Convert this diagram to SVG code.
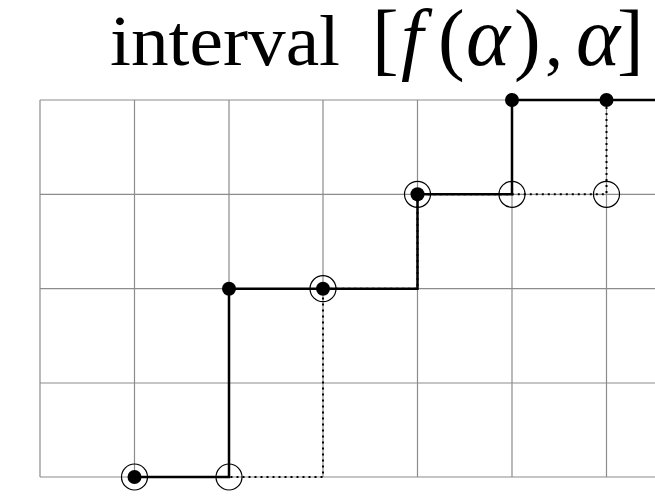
<svg xmlns="http://www.w3.org/2000/svg" width="655" height="504" viewBox="0 0 655 504">
<style>
.grid{stroke:#8c8c8c;stroke-width:1.2;fill:none}
.solid{stroke:#000;stroke-width:2.5;fill:none}
.dot{stroke:#000;stroke-width:2;fill:none;stroke-dasharray:2 4}
.fd{fill:#000}
.oc{fill:none;stroke:#000;stroke-width:1.2}
.title{font-family:"Liberation Serif","Times New Roman",serif;font-size:72px;fill:#000}
.it{font-style:italic}
</style>
<rect width="655" height="504" fill="#fff"/>
<text class="title" y="65"><tspan x="110" textLength="230" lengthAdjust="spacingAndGlyphs">interval</tspan><tspan x="372" font-size="80">[</tspan><tspan x="401" class="it" font-size="80">f</tspan><tspan x="438" font-size="80">(</tspan><tspan x="466" class="it" font-size="84">α</tspan><tspan x="514" font-size="80">)</tspan><tspan x="545">,</tspan><tspan x="576" class="it" font-size="84">α</tspan><tspan x="617" font-size="80">]</tspan></text>
<g id="grid" class="grid">
<path d="M40 100V477M134.5 100V477M229 100V477M323 100V477M417.5 100V477M512 100V477M606.5 100V477"/>
<path d="M40 100H655M40 194.3H655M40 288.7H655M40 383H655M40 477H655"/>
</g>
<g id="connectors">
<path class="dot" d="M134.5 477H323V288.7H417.5V194.3H606.5V100"/>
<path class="solid" d="M134.5 477H229V288.7H417.5V194.3H512V100H655"/>
</g>
<g id="nodes">
<g id="n1"><circle class="oc" cx="134.5" cy="477" r="13"/><circle class="fd" cx="134.5" cy="477" r="7"/></g>
<g id="n2"><circle class="oc" cx="229" cy="477" r="13"/></g>
<g id="n3"><circle class="fd" cx="229" cy="288.7" r="7"/></g>
<g id="n4"><circle class="oc" cx="323" cy="288.7" r="13"/><circle class="fd" cx="323" cy="288.7" r="7"/></g>
<g id="n5"><circle class="oc" cx="417.5" cy="194.3" r="13"/><circle class="fd" cx="417.5" cy="194.3" r="7"/></g>
<g id="n6"><circle class="oc" cx="512" cy="194.3" r="13"/></g>
<g id="n7"><circle class="oc" cx="606.5" cy="194.3" r="13"/></g>
<g id="n8"><circle class="fd" cx="512" cy="100" r="7"/></g>
<g id="n9"><circle class="fd" cx="606.5" cy="100" r="7"/></g>
</g>
</svg>
